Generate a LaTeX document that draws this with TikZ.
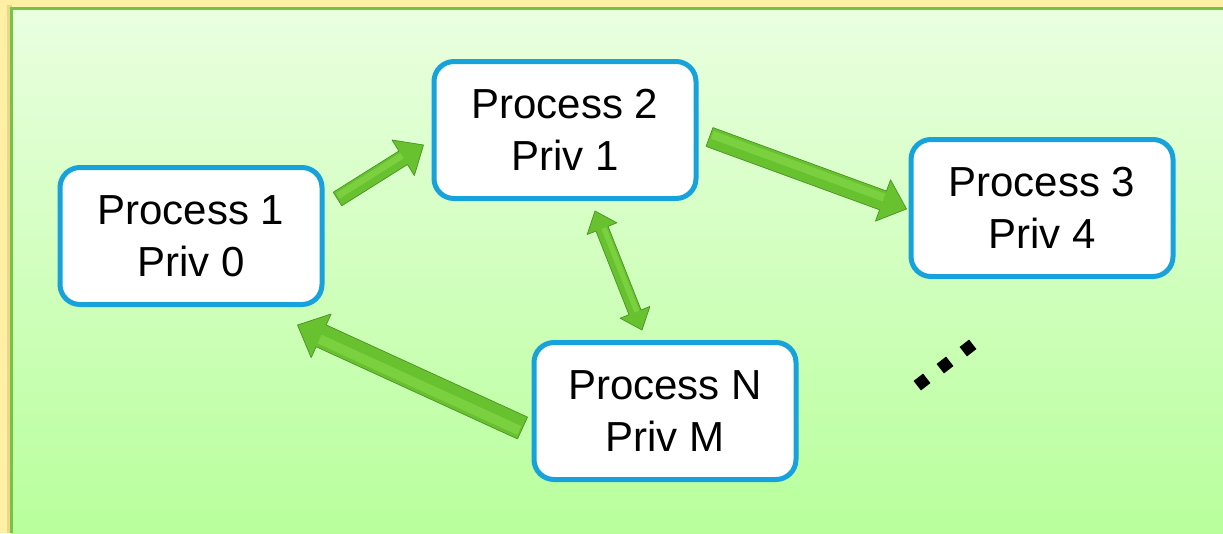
\documentclass[tikz,border=0pt]{standalone}
\usepackage{fontspec}
\setmainfont{Liberation Sans}
\usetikzlibrary{calc}

\definecolor{frameyellow}{HTML}{FFF0A6}
\definecolor{frameedge}{HTML}{E8D98A}
\definecolor{paneltop}{HTML}{EAFFE0}
\definecolor{panelbottom}{HTML}{B8FF9C}
\definecolor{panelline}{HTML}{78C244}
\definecolor{boxblue}{HTML}{18A2DC}
\definecolor{arrowfill}{HTML}{68C230}
\definecolor{arrowlight}{HTML}{84D646}
\definecolor{arrowdark}{HTML}{4A9422}

\tikzset{
  procbox/.style={draw=boxblue, line width=5pt, fill=white, rounded corners=20pt,
    minimum width=262pt, minimum height=137pt, inner sep=0pt, align=center,
    font=\fontsize{42}{52}\selectfont},
  arrowbody/.style={fill=arrowfill, draw=arrowdark, line width=0.7pt, line join=round},
  arrowshine/.style={draw=arrowlight, opacity=0.7, line cap=butt},
  arrowshadow/.style={fill=black, opacity=0.15},
  dotmark/.style={fill=black, minimum size=12pt, inner sep=0pt, rotate=38}
}

% single-headed block arrow: #1 tail, #2 tip, #3 half shaft width,
% #4 half head width, #5 head length
\newcommand\blockarrow[5]{%
  \coordinate (ba-h) at ($(#2)!#5!(#1)$);
  \fill[arrowshadow, shift={(2pt,-3pt)}]
    ($(#1)!#3!90:(#2)$) -- ($(ba-h)!#3!90:(#2)$) -- ($(ba-h)!#4!90:(#2)$) -- (#2)
    -- ($(ba-h)!#4!-90:(#2)$) -- ($(ba-h)!#3!-90:(#2)$) -- ($(#1)!#3!-90:(#2)$) -- cycle;
  \path[arrowbody]
    ($(#1)!#3!90:(#2)$) -- ($(ba-h)!#3!90:(#2)$) -- ($(ba-h)!#4!90:(#2)$) -- (#2)
    -- ($(ba-h)!#4!-90:(#2)$) -- ($(ba-h)!#3!-90:(#2)$) -- ($(#1)!#3!-90:(#2)$) -- cycle;
  \draw[arrowshine, line width=#3*0.8]
    ($($(#1)!2pt!(#2)$)!0.3*#3!90:(#2)$) -- ($(ba-h)!0.3*#3!90:(#2)$);
}

% double-headed block arrow between tips #1 and #2
\newcommand\dblarrow[5]{%
  \coordinate (da-a) at ($(#1)!#5!(#2)$);
  \coordinate (da-b) at ($(#2)!#5!(#1)$);
  \fill[arrowshadow, shift={(2pt,-3pt)}]
    (#1) -- ($(da-a)!#4!90:(#2)$) -- ($(da-a)!#3!90:(#2)$) -- ($(da-b)!#3!90:(#2)$)
    -- ($(da-b)!#4!90:(#2)$) -- (#2) -- ($(da-b)!#4!-90:(#2)$) -- ($(da-b)!#3!-90:(#2)$)
    -- ($(da-a)!#3!-90:(#2)$) -- ($(da-a)!#4!-90:(#2)$) -- cycle;
  \path[arrowbody]
    (#1) -- ($(da-a)!#4!90:(#2)$) -- ($(da-a)!#3!90:(#2)$) -- ($(da-b)!#3!90:(#2)$)
    -- ($(da-b)!#4!90:(#2)$) -- (#2) -- ($(da-b)!#4!-90:(#2)$) -- ($(da-b)!#3!-90:(#2)$)
    -- ($(da-a)!#3!-90:(#2)$) -- ($(da-a)!#4!-90:(#2)$) -- cycle;
  \draw[arrowshine, line width=#3*0.8]
    ($(da-a)!0.3*#3!90:(#2)$) -- ($(da-b)!0.3*#3!90:(#2)$);
}

\begin{document}
\begin{tikzpicture}[x=1pt, y=-1pt]
  \useasboundingbox (0,0) rectangle (1223,533);

  % frame and panel
  \fill[frameyellow] (0,0) rectangle (1223,533);
  \fill[frameedge] (7,5) rectangle (12,533);
  \shade[top color=paneltop, bottom color=panelbottom] (11,7) rectangle (1223,533);
  \draw[panelline, line width=3pt] (11.5,533) -- (11.5,8.5) -- (1223,8.5);

  % processes
  \node[procbox] (p1) at (191,236) {Process 1\\Priv 0};
  \node[procbox] (p2) at (565,130) {Process 2\\Priv 1};
  \node[procbox] (p3) at (1042,208) {Process 3\\Priv 4};
  \node[procbox] (pN) at (665,411) {Process N\\Priv M};

  % arrow end points
  \coordinate (a1s) at ($(p1.east)+(13,-37)$);
  \coordinate (a1e) at ($(p2.west)+(-8,15)$);
  \coordinate (a2s) at ($(p2.east)+(11,7)$);
  \coordinate (a2e) at ($(p3.west)+(-2,1)$);
  \coordinate (a3s) at ($(pN.west)+(-9,17)$);
  \coordinate (a3e) at ($(p1.south east)+(-27,18)$);
  \coordinate (a4s) at ($(p2.south)+(30,10)$);
  \coordinate (a4e) at ($(pN.north)+(-23,-10)$);

  \blockarrow{a1s}{a1e}{8pt}{21pt}{24pt}
  \blockarrow{a2s}{a2e}{10pt}{22pt}{25pt}
  \blockarrow{a3s}{a3e}{12pt}{24pt}{26pt}
  \dblarrow{a4s}{a4e}{6.5pt}{16pt}{19pt}

  % ellipsis
  \node[dotmark] (d1) at (922,382) {};
  \node[dotmark] (d2) at (945,365) {};
  \node[dotmark] (d3) at (968,348) {};
\end{tikzpicture}
\end{document}
